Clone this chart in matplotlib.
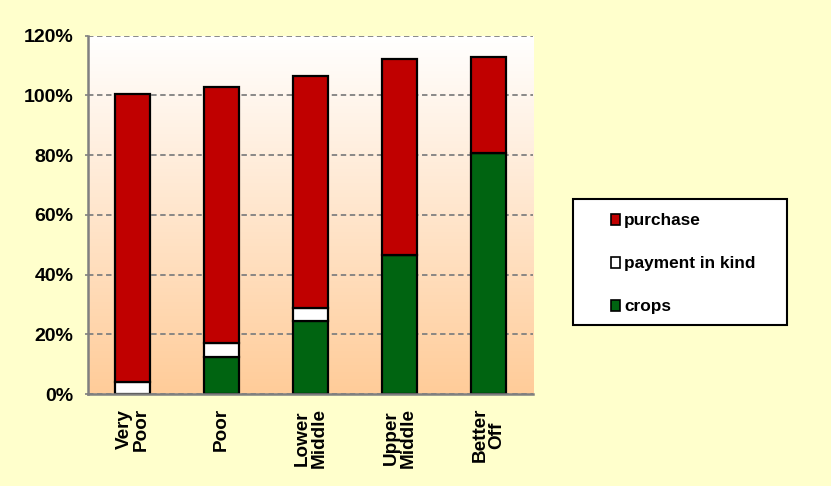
import numpy as np
import matplotlib.pyplot as plt
from matplotlib.colors import LinearSegmentedColormap
from matplotlib.patches import Rectangle, Patch
from matplotlib.ticker import FuncFormatter

plt.rcParams['font.family'] = ['Liberation Sans', 'DejaVu Sans']
plt.rcParams['font.weight'] = 'bold'

groups = ['Very\nPoor', 'Poor', 'Lower\nMiddle', 'Upper\nMiddle', 'Better\nOff']
crops = [0.0, 12.5, 24.5, 46.6, 80.6]
payment_in_kind = [4.1, 4.5, 4.2, 0.0, 0.0]
purchase = [96.3, 85.9, 77.8, 65.5, 32.2]
yticks = [0, 20, 40, 60, 80, 100, 120]

red = '#C00000'
green = '#006411'
fig_bg = '#FFFFCC'

fig = plt.figure(figsize=(8.31, 4.86), dpi=100, facecolor=fig_bg)
ax = fig.add_axes([0.1059, 0.1893, 0.5355, 0.7372])

x = np.arange(len(groups))
w = 0.4

# white-to-peach gradient behind the bars
grad = LinearSegmentedColormap.from_list('peach', ['#FFCC99', '#FFFFFF'])
ax.imshow(np.linspace(0, 1, 256).reshape(-1, 1), cmap=grad, origin='lower',
          aspect='auto', extent=[-0.5, 4.5, 0, 120], zorder=0)

bottom2 = np.array(crops) + np.array(payment_in_kind)
ax.bar(x, crops, w, color=green, edgecolor='black', linewidth=1.6, zorder=3)
ax.bar(x, payment_in_kind, w, bottom=crops, color='white', edgecolor='black',
       linewidth=1.6, zorder=3)
ax.bar(x, purchase, w, bottom=bottom2, color=red, edgecolor='black',
       linewidth=1.6, zorder=3)

ax.set_xlim(-0.5, 4.5)
ax.set_ylim(0, 120)
ax.set_yticks(yticks)
ax.yaxis.set_major_formatter(FuncFormatter(lambda v, p: f'{v:.0f}%'))
ax.set_xticks(x)
ax.set_xticklabels(groups, rotation=90, fontsize=13.6, fontweight='bold',
                   multialignment='center', linespacing=1.0)
ax.tick_params(axis='x', length=0, pad=10)
ax.tick_params(axis='y', length=2.4, width=1.2, color='#808080', pad=8.2,
               labelsize=14)
for lbl in ax.get_yticklabels():
    lbl.set_fontweight('bold')

ax.grid(axis='y', color='#808080', linestyle=(0, (3, 2)), linewidth=1.3, zorder=1)
ax.set_axisbelow(True)
for s in ['top', 'right']:
    ax.spines[s].set_visible(False)
for s in ['left', 'bottom']:
    ax.spines[s].set_color('#808080')
    ax.spines[s].set_linewidth(1.8)
    ax.spines[s].set_zorder(4)

# legend box
fig.patches.append(Rectangle((0.6895, 0.3313), 0.2575, 0.2592,
                             transform=fig.transFigure, facecolor='white',
                             edgecolor='black', linewidth=1.5, zorder=1))
handles = [Patch(facecolor=red, edgecolor='black', linewidth=1.2, label='purchase'),
           Patch(facecolor='white', edgecolor='black', linewidth=1.2, label='payment in kind'),
           Patch(facecolor=green, edgecolor='black', linewidth=1.2, label='crops')]
leg = fig.legend(handles=handles, loc='center left', bbox_to_anchor=(0.725, 0.457),
                 frameon=False, handlelength=0.5, handleheight=0.6,
                 handletextpad=0.25, labelspacing=1.63, borderpad=0,
                 prop={'weight': 'bold', 'size': 12.4})

fig.savefig('out.png', dpi=100, facecolor=fig_bg)
